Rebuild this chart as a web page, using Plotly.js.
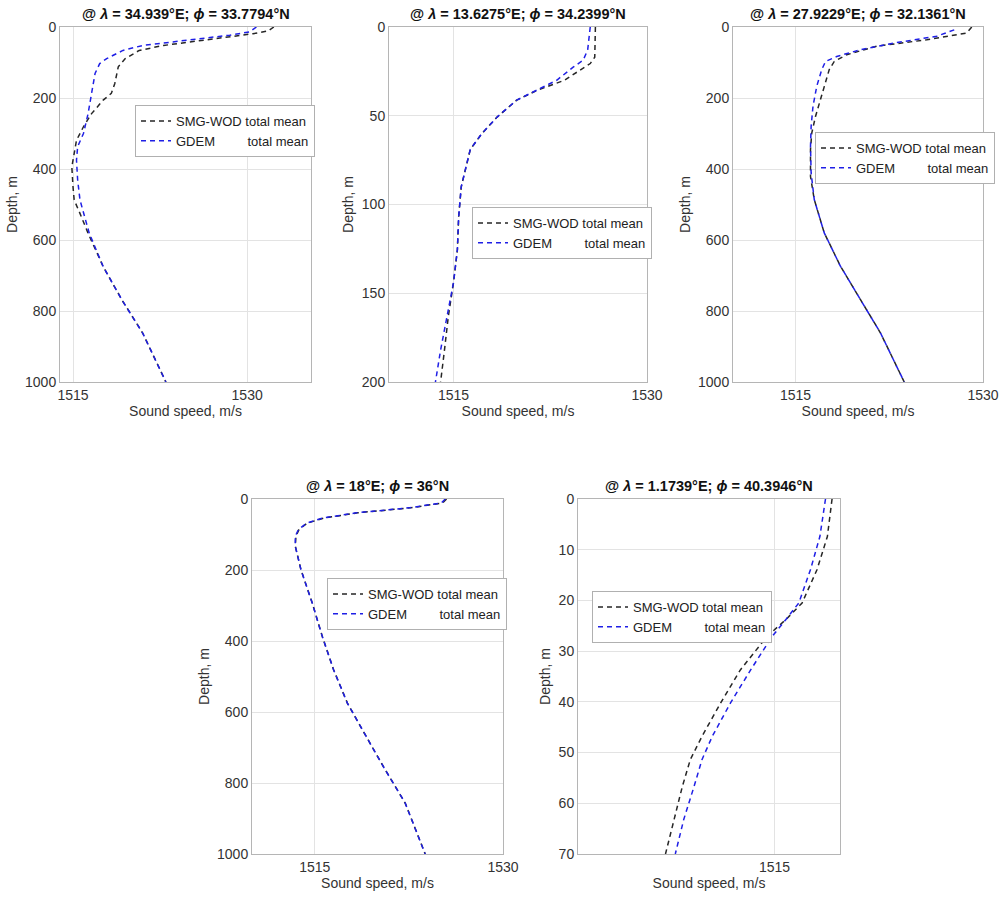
<!DOCTYPE html>
<html><head><meta charset="utf-8">
<script src="https://cdn.plot.ly/plotly-3.0.1.min.js"></script>
<style>html,body{margin:0;padding:0;background:#fff}</style>
</head><body><div id="chart" style="width:1002px;height:897px"></div>
<script>
// ---- data ----
const panelTitles = [
  "@ <i>λ</i> = 34.939°E; <i>ϕ</i> = 33.7794°N",
  "@ <i>λ</i> = 13.6275°E; <i>ϕ</i> = 34.2399°N",
  "@ <i>λ</i> = 27.9229°E; <i>ϕ</i> = 32.1361°N",
  "@ <i>λ</i> = 18°E; <i>ϕ</i> = 36°N",
  "@ <i>λ</i> = 1.1739°E; <i>ϕ</i> = 40.3946°N"
];
const seriesNames = ["SMG-WOD total mean", "GDEM\u00a0\u00a0\u00a0\u00a0\u00a0\u00a0\u00a0\u00a0\u00a0total mean"];
const xAxisTitle = "Sound speed, m/s";
const yAxisTitle = "Depth, m";
const xTickVals = [1515, 1530];

// Panel 1
const p1_smg_depth = [0, 11, 19, 33, 52, 66, 89, 112, 159, 187, 206, 244, 281, 319, 356, 394, 450, 487, 525, 581, 675, 768, 862, 1000];
const p1_smg_speed = [1532.3, 1531.8, 1530.5, 1527.1, 1522.8, 1520.7, 1519.5, 1518.9, 1518.6, 1518.3, 1517.6, 1516.6, 1515.9, 1515.3, 1515.1, 1514.9, 1515.0, 1515.1, 1515.6, 1516.3, 1517.6, 1519.2, 1521.0, 1523.0];
const p1_gdem_depth = [0, 14, 23, 37, 52, 66, 89, 103, 131, 187, 244, 300, 337, 375, 431, 487, 534, 581, 675, 768, 862, 1000];
const p1_gdem_speed = [1530.8, 1530.2, 1528.5, 1524.8, 1521.0, 1519.3, 1517.9, 1517.3, 1516.9, 1516.6, 1516.3, 1515.9, 1515.4, 1515.3, 1515.4, 1515.6, 1516.0, 1516.4, 1517.6, 1519.2, 1521.0, 1523.0];
// Panel 2
const p2_smg_depth = [0, 17, 20.6, 24.4, 30, 35.6, 41.2, 50.6, 60, 69, 78.7, 90, 107, 125.6, 144, 163, 182, 200];
const p2_smg_speed = [1526.0, 1525.95, 1525.6, 1524.8, 1523.6, 1521.5, 1519.9, 1518.4, 1517.2, 1516.3, 1516.0, 1515.6, 1515.4, 1515.3, 1515.0, 1514.6, 1514.3, 1514.0];
const p2_gdem_depth = [0, 13, 18.7, 22.5, 30, 35.6, 41.2, 50.6, 60, 69, 78.7, 90, 107, 125.6, 144, 163, 182, 200];
const p2_gdem_speed = [1525.6, 1525.4, 1525.05, 1524.3, 1523.0, 1521.5, 1519.9, 1518.4, 1517.2, 1516.3, 1516.0, 1515.6, 1515.4, 1515.3, 1515.0, 1514.5, 1514.0, 1513.6];
// Panel 3
const p3_smg_depth = [0, 17, 36, 54, 78, 97, 120, 167, 205, 252, 299, 345, 421, 486, 580, 674, 768, 862, 1000];
const p3_smg_speed = [1529.1, 1528.7, 1525.5, 1521.5, 1519.1, 1518.1, 1517.7, 1517.3, 1517.0, 1516.6, 1516.3, 1516.2, 1516.2, 1516.5, 1517.3, 1518.6, 1520.2, 1521.8, 1523.7];
const p3_gdem_depth = [8, 26, 45, 64, 83, 97, 120, 167, 223, 280, 336, 411, 486, 580, 674, 768, 862, 1000];
const p3_gdem_speed = [1527.7, 1526.3, 1522.9, 1520.2, 1518.3, 1517.4, 1517.1, 1516.7, 1516.4, 1516.25, 1516.2, 1516.25, 1516.5, 1517.3, 1518.6, 1520.2, 1521.8, 1523.7];
// Panel 4
const p4_smg_depth = [0, 11, 25, 39, 54, 68, 86, 105, 133, 199, 293, 387, 481, 575, 669, 762, 856, 1000];
const p4_smg_speed = [1525.5, 1525.2, 1522.6, 1518.4, 1515.7, 1514.4, 1513.75, 1513.5, 1513.45, 1513.9, 1514.8, 1515.6, 1516.5, 1517.6, 1519.1, 1520.6, 1522.2, 1523.8];
const p4_gdem_depth = [0, 11, 25, 39, 54, 68, 86, 105, 133, 199, 293, 387, 481, 575, 669, 762, 856, 1000];
const p4_gdem_speed = [1525.4, 1525.1, 1522.5, 1518.3, 1515.6, 1514.35, 1513.7, 1513.45, 1513.45, 1513.9, 1514.8, 1515.6, 1516.5, 1517.6, 1519.1, 1520.6, 1522.2, 1523.8];
// Panel 5
const p5_smg_depth = [0, 7.4, 13.9, 20.5, 23.8, 27.1, 33.7, 40.2, 46.8, 51.4, 56.7, 63.2, 70];
const p5_smg_speed = [1516.23, 1516.13, 1515.91, 1515.59, 1515.24, 1514.84, 1514.27, 1513.85, 1513.45, 1513.2, 1513.03, 1512.85, 1512.67];
const p5_gdem_depth = [0, 7.4, 13.9, 20.5, 23.8, 27.1, 33.7, 40.2, 46.8, 51.4, 56.7, 63.2, 70];
const p5_gdem_speed = [1516.09, 1515.97, 1515.77, 1515.52, 1515.24, 1514.95, 1514.49, 1514.06, 1513.67, 1513.45, 1513.28, 1513.06, 1512.88];

const panels = [
  {smgD: p1_smg_depth, smgS: p1_smg_speed, gdD: p1_gdem_depth, gdS: p1_gdem_speed},
  {smgD: p2_smg_depth, smgS: p2_smg_speed, gdD: p2_gdem_depth, gdS: p2_gdem_speed},
  {smgD: p3_smg_depth, smgS: p3_smg_speed, gdD: p3_gdem_depth, gdS: p3_gdem_speed},
  {smgD: p4_smg_depth, smgS: p4_smg_speed, gdD: p4_gdem_depth, gdS: p4_gdem_speed},
  {smgD: p5_smg_depth, smgS: p5_smg_speed, gdD: p5_gdem_depth, gdS: p5_gdem_speed}
];

// ---- layout geometry (pixels) ----
const W = 1002, H = 897;
const boxes = [
  {x0: 60, x1: 311, y0: 27, y1: 382, xr: [1513.88, 1535.5], yr: [1000, 0], dy: 200},
  {x0: 389, x1: 647, y0: 27, y1: 382, xr: [1510, 1530], yr: [200, 0], dy: 50},
  {x0: 733, x1: 983, y0: 27, y1: 382, xr: [1510, 1530], yr: [1000, 0], dy: 200},
  {x0: 252, x1: 503, y0: 499, y1: 854, xr: [1510, 1530], yr: [1000, 0], dy: 200},
  {x0: 578, x1: 840, y0: 499, y1: 854, xr: [1510.8, 1516.4], yr: [70, 0], dy: 10}
];
const legendPos = [
  {x: 135, y: 131}, {x: 472, y: 233}, {x: 815, y: 158}, {x: 327, y: 604}, {x: 592, y: 617}
];

const fontFam = "Liberation Sans, Arial, sans-serif";
const traces = [];
const layout = {
  width: W, height: H, margin: {l: 0, r: 0, t: 0, b: 0},
  paper_bgcolor: "#fff", plot_bgcolor: "#fff",
  font: {family: fontFam, size: 14, color: "#333"},
  annotations: []
};
const lineColors = ["#262626", "#1f1fe6"];
panels.forEach((p, i) => {
  const n = i + 1;
  const xa = n === 1 ? "x" : "x" + n;
  const ya = n === 1 ? "y" : "y" + n;
  const lg = n === 1 ? "legend" : "legend" + n;
  traces.push({x: p.smgS, y: p.smgD, xaxis: xa, yaxis: ya, mode: "lines", name: seriesNames[0], legend: lg,
    line: {color: lineColors[0], width: 1.5, dash: "5px,4px"}});
  traces.push({x: p.gdS, y: p.gdD, xaxis: xa, yaxis: ya, mode: "lines", name: seriesNames[1], legend: lg,
    line: {color: lineColors[1], width: 1.5, dash: "5px,4px"}});
  const b = boxes[i];
  const xkey = n === 1 ? "xaxis" : "xaxis" + n;
  const ykey = n === 1 ? "yaxis" : "yaxis" + n;
  layout[xkey] = {
    domain: [b.x0 / W, b.x1 / W], anchor: ya, range: b.xr,
    tickmode: "array", tickvals: xTickVals, ticks: "", showgrid: true, gridcolor: "#e3e3e3",
    zeroline: false, showline: true, mirror: true, linecolor: "#b5b5b5", linewidth: 1,
    tickfont: {size: 14, color: "#333"},
    title: {text: xAxisTitle, font: {size: 14, color: "#333"}, standoff: 4}
  };
  layout[ykey] = {
    domain: [1 - b.y1 / H, 1 - b.y0 / H], anchor: xa, range: b.yr,
    dtick: b.dy, tick0: 0, ticks: "", showgrid: true, gridcolor: "#e3e3e3",
    zeroline: false, showline: true, mirror: true, linecolor: "#b5b5b5", linewidth: 1,
    tickfont: {size: 14, color: "#333"},
    title: {text: yAxisTitle, font: {size: 14, color: "#333"}, standoff: 4}
  };
  layout[lg] = {
    x: legendPos[i].x / W, y: 1 - legendPos[i].y / H, xanchor: "left", yanchor: "middle",
    xref: "paper", yref: "paper",
    bgcolor: "#fff", bordercolor: "#b0b0b0", borderwidth: 1,
    font: {size: 13, color: "#222"}, tracegroupgap: 0, itemwidth: 30
  };
  layout.annotations.push({
    text: "<b>" + panelTitles[i] + "</b>", xref: "paper", yref: "paper",
    x: (b.x0 + b.x1) / 2 / W, y: 1 - (b.y0 - 13) / H, xanchor: "center", yanchor: "middle",
    showarrow: false, font: {size: 14.5, color: "#111", family: fontFam}
  });
});

Plotly.newPlot("chart", traces, layout, {displayModeBar: false, staticPlot: true});
</script>
</body></html>
